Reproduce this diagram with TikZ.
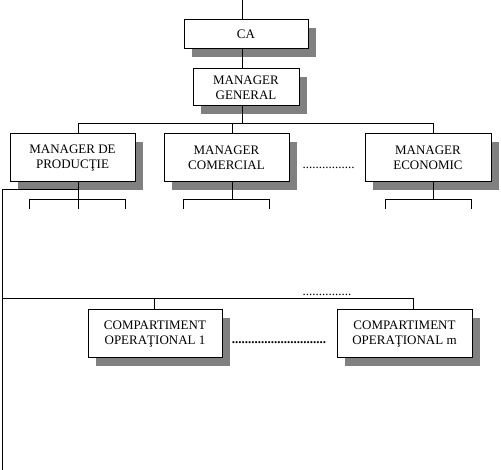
\documentclass[tikz,border=0pt]{standalone}
\usepackage{fontspec}
\setmainfont{Liberation Serif}
\usetikzlibrary{shadows}
\begin{document}
\begin{tikzpicture}[x=1pt, y=-1pt, line width=1pt,
    box/.style={rectangle, draw, fill=white, inner sep=0pt, minimum height=48pt, align=center,
        font=\fontsize{13}{15}\selectfont,
        drop shadow={shadow xshift=8pt, shadow yshift=-8pt, fill=black!50, opacity=1}},
    dots/.style={inner sep=0pt, font=\fontsize{13}{15}\selectfont}]
    \useasboundingbox (0,0) rectangle (501,470);

    \node[box, minimum width=124pt, minimum height=29pt] (ca) at (246,34.5) {CA};
    \node[box, minimum width=106pt, minimum height=37pt] (mg) at (246,87.5) {MANAGER\\GENERAL};
    \node[box, minimum width=125pt] (mp) at (72.5,158) {MANAGER DE\\PRODUCŢIE};
    \node[box, minimum width=125pt] (mc) at (226.5,158) {MANAGER\\COMERCIAL};
    \node[box, minimum width=126pt] (me) at (428,158) {MANAGER\\ECONOMIC};
    \node[box, minimum width=134pt] (co1) at (155,334) {COMPARTIMENT\\OPERAŢIONAL 1};
    \node[box, minimum width=135pt] (com) at (404.5,334) {COMPARTIMENT\\OPERAŢIONAL m};

    \node[dots] (d1) at (328.5,168) {................};
    \node[dots] (d2) at (327,295) {...............};
    \node[dots, font=\bfseries\fontsize{13}{15}\selectfont] (d3) at (279,343) {.............................};

    \coordinate (top) at (242,0);
    \coordinate (b1) at (78,124);
    \coordinate (b2) at (232,124);
    \coordinate (b3) at (433,124);
    \coordinate (pl) at (29,200);
    \coordinate (pr) at (125,200);
    \coordinate (cl) at (183,200);
    \coordinate (cr) at (269,200);
    \coordinate (el) at (385,200);
    \coordinate (er) at (471,200);
    \coordinate (l1) at (2,190);
    \coordinate (l2) at (2,470);
    \coordinate (c1) at (2,299);
    \coordinate (c2) at (154,299);
    \coordinate (c3) at (413,299);

    % top of the chart
    \draw (top) -- (top |- ca.north);
    \draw (ca.south -| top) -- (mg.north -| top);
    \draw (mg.south -| top) -- (top |- b1);
    \draw (mp.north -| b1) -- (b1) -- (b3) -- (me.north -| b3);
    \draw (b2) -- (mc.north -| b2);

    % brackets under the managers
    \draw (mp.south -| b1) -- ++(0,27);
    \draw (pl) ++(0,9) -- (pl) -- (pr) -- ++(0,9);
    \draw (mc.south -| b2) -- (b2 |- cl);
    \draw (cl) ++(0,9) -- (cl) -- (cr) -- ++(0,9);
    \draw (me.south -| b3) -- (b3 |- el);
    \draw (el) ++(0,9) -- (el) -- (er) -- ++(0,9);

    % operational departments
    \draw (b1 |- l1) -- (l1) -- (l2);
    \draw (c1) -- (c3) -- (com.north -| c3);
    \draw (c2) -- (co1.north -| c2);
\end{tikzpicture}
\end{document}
